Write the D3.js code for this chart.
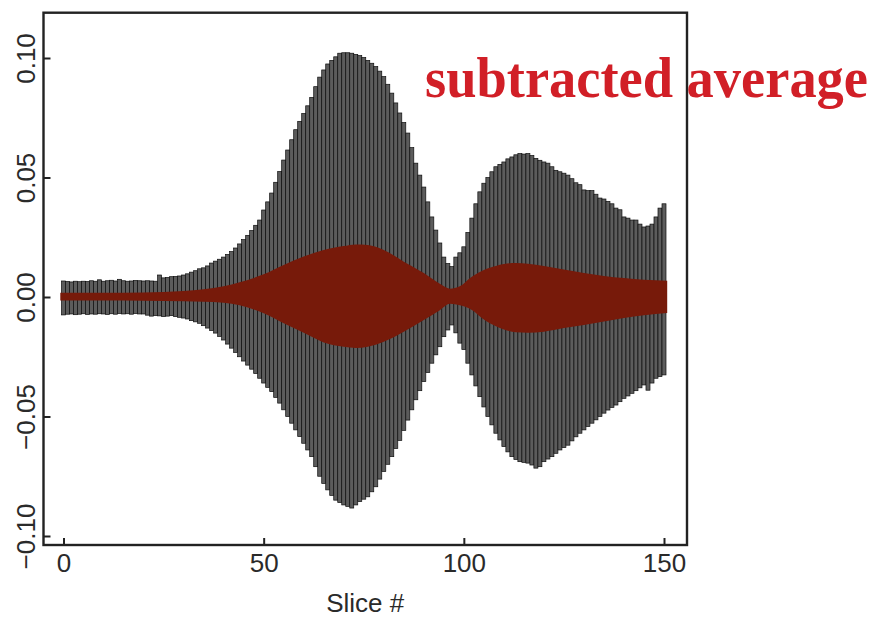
<!DOCTYPE html>
<html>
<head>
<meta charset="utf-8">
<script src="https://cdn.jsdelivr.net/npm/d3@7"></script>
<style>
  body { margin: 0; background: #fff; }
  svg { display: block; }
  .tick text { font-family: "Liberation Sans", Arial, sans-serif; font-size: 26px; fill: #2a2a2a; }
</style>
</head>
<body>
<svg id="chart" width="878" height="617"></svg>
<script>
// slice numbers 0..150
const slices = d3.range(0, 151);

// upper end of each slice's bar
const upper = [
  0.0067, 0.0065, 0.0063, 0.0066, 0.0064, 0.0066, 0.0065, 0.0068, 0.0066, 0.0072,
  0.0066, 0.0068, 0.0070, 0.0067, 0.0074, 0.0068, 0.0066, 0.0067, 0.0069, 0.0068,
  0.0067, 0.0068, 0.0067, 0.0066, 0.0092, 0.0080, 0.0082, 0.0085, 0.0086, 0.0088,
  0.0092, 0.0097, 0.0104, 0.0110, 0.0118, 0.0122, 0.0130, 0.0142, 0.0150, 0.0158,
  0.0167, 0.0178, 0.0190, 0.0205, 0.0222, 0.0240, 0.0258, 0.0278, 0.0300, 0.0322,
  0.0364, 0.0398, 0.0435, 0.0480, 0.0525, 0.0573, 0.0615, 0.0658, 0.0700, 0.0735,
  0.0768, 0.0800, 0.0835, 0.0880, 0.0920, 0.0950, 0.0975, 0.0990, 0.1005, 0.1020,
  0.1022, 0.1022, 0.1020, 0.1015, 0.1010, 0.1002, 0.0990, 0.0978, 0.0964, 0.0945,
  0.0922, 0.0890, 0.0853, 0.0812, 0.0770, 0.0730, 0.0686, 0.0625, 0.0560, 0.0510,
  0.0460, 0.0398, 0.0335, 0.0280, 0.0226, 0.0167, 0.0140, 0.0127, 0.0167, 0.0185,
  0.0210, 0.0270, 0.0330, 0.0390, 0.0440, 0.0476, 0.0500, 0.0524, 0.0545, 0.0555,
  0.0565, 0.0578, 0.0586, 0.0595, 0.0600, 0.0598, 0.0600, 0.0592, 0.0580, 0.0572,
  0.0565, 0.0560, 0.0545, 0.0530, 0.0524, 0.0518, 0.0510, 0.0495, 0.0478, 0.0470,
  0.0448, 0.0445, 0.0445, 0.0430, 0.0414, 0.0410, 0.0400, 0.0390, 0.0372, 0.0365,
  0.0335, 0.0330, 0.0322, 0.0322, 0.0305, 0.0293, 0.0297, 0.0305, 0.0335, 0.0372,
  0.0390
];

// lower end of each slice's bar
const lower = [
  -0.0075, -0.0072, -0.0071, -0.0074, -0.0072, -0.0070, -0.0073, -0.0071, -0.0072, -0.0070,
  -0.0071, -0.0073, -0.0070, -0.0072, -0.0069, -0.0071, -0.0070, -0.0072, -0.0069, -0.0071,
  -0.0071, -0.0076, -0.0080, -0.0078, -0.0079, -0.0082, -0.0080, -0.0078, -0.0082, -0.0085,
  -0.0088, -0.0092, -0.0099, -0.0104, -0.0110, -0.0120, -0.0130, -0.0140, -0.0151, -0.0165,
  -0.0180, -0.0197, -0.0214, -0.0232, -0.0250, -0.0268, -0.0285, -0.0302, -0.0320, -0.0340,
  -0.0360, -0.0378, -0.0396, -0.0420, -0.0444, -0.0472, -0.0500, -0.0528, -0.0556, -0.0584,
  -0.0612, -0.0640, -0.0668, -0.0710, -0.0750, -0.0780, -0.0807, -0.0830, -0.0850, -0.0860,
  -0.0870, -0.0876, -0.0883, -0.0870, -0.0856, -0.0846, -0.0836, -0.0815, -0.0794, -0.0762,
  -0.0730, -0.0700, -0.0668, -0.0634, -0.0600, -0.0558, -0.0515, -0.0472, -0.0430, -0.0392,
  -0.0354, -0.0316, -0.0277, -0.0242, -0.0208, -0.0166, -0.0138, -0.0117, -0.0150, -0.0193,
  -0.0220, -0.0277, -0.0326, -0.0372, -0.0417, -0.0460, -0.0500, -0.0535, -0.0570, -0.0598,
  -0.0626, -0.0648, -0.0668, -0.0680, -0.0689, -0.0692, -0.0695, -0.0703, -0.0716, -0.0710,
  -0.0689, -0.0678, -0.0668, -0.0654, -0.0640, -0.0630, -0.0620, -0.0602, -0.0585, -0.0570,
  -0.0556, -0.0542, -0.0528, -0.0514, -0.0500, -0.0486, -0.0473, -0.0462, -0.0452, -0.0438,
  -0.0424, -0.0414, -0.0403, -0.0392, -0.0380, -0.0368, -0.0390, -0.0360, -0.0340, -0.0333,
  -0.0326
];

// subtracted average band, read at these slices
const bandSlices = [-0.8, 10, 20, 30, 35, 40, 44, 50, 55, 60, 65, 70, 73, 76, 80, 85, 90, 94, 96.5,
  99, 102, 105, 108, 110, 113, 116, 120, 125, 130, 135, 140, 145, 150.8];
const bandUpper = [0.0018, 0.0018, 0.0019, 0.0025, 0.0032, 0.0045, 0.0062, 0.0095, 0.0134, 0.0169,
  0.0197, 0.0213, 0.0220, 0.0218, 0.0197, 0.0148, 0.0100, 0.0055, 0.0035,
  0.0045, 0.0085, 0.0113, 0.0130, 0.0138, 0.0142, 0.0139, 0.0130, 0.0115, 0.0100, 0.0088,
  0.0079, 0.0072, 0.0068];
const bandLower = [-0.0015, -0.0015, -0.0016, -0.0018, -0.0020, -0.0024, -0.0035, -0.0068, -0.0110, -0.0150,
  -0.0190, -0.0208, -0.0213, -0.0208, -0.0187, -0.0145, -0.0096, -0.0055, -0.0028,
  -0.0035, -0.0054, -0.0094, -0.0122, -0.0136, -0.0148, -0.0150, -0.0145, -0.0130, -0.0117, -0.0103,
  -0.0088, -0.0076, -0.0067];

const xTicks = [0, 50, 100, 150];
const yTicks = [-0.10, -0.05, 0.00, 0.05, 0.10];
const yTickLabels = ["\u22120.10", "\u22120.05", "0.00", "0.05", "0.10"];

const svg = d3.select("#chart");

let plotLeft = 43.5, plotRight = 687, plotTop = 12.7, plotBottom = 545;

const x = d3.scaleLinear().domain([0, 150]).range([63.5, 664]);
const y = d3.scaleLinear().domain([-0.10, 0.10]).range([536, 58]);

// error bars
svg.append("g")
  .selectAll("rect")
  .data(slices)
  .join("rect")
  .attr("x", i => x(i - 0.5))
  .attr("width", i => x(i + 0.5) - x(i - 0.5))
  .attr("y", i => y(upper[i]))
  .attr("height", i => y(lower[i]) - y(upper[i]))
  .attr("fill", "#5c5c5c")
  .attr("stroke", "#0d0d0d")
  .attr("stroke-width", 0.7);

// average band
const band = bandSlices.map((s, i) => ({ s: s, hi: bandUpper[i], lo: bandLower[i] }));
const area = d3.area()
  .x(d => x(d.s))
  .y0(d => y(d.lo))
  .y1(d => y(d.hi))
  .curve(d3.curveMonotoneX);

svg.append("path")
  .datum(band)
  .attr("d", area)
  .attr("fill", "#771a0a");

// axes
const xAxis = svg.append("g")
  .attr("transform", `translate(0,${plotBottom})`)
  .call(d3.axisBottom(x).tickValues(xTicks).tickSize(-7).tickPadding(9));
xAxis.select(".domain").remove();
xAxis.selectAll(".tick line").attr("stroke", "#222").attr("stroke-width", 2);

const yAxis = svg.append("g")
  .attr("transform", `translate(${plotLeft},0)`)
  .call(d3.axisLeft(y).tickValues(yTicks).tickSize(-7).tickFormat((d, i) => yTickLabels[i]));
yAxis.select(".domain").remove();
yAxis.selectAll(".tick line").attr("stroke", "#222").attr("stroke-width", 2);
yAxis.selectAll(".tick text")
  .attr("transform", "rotate(-90)")
  .attr("x", 0)
  .attr("y", -9)
  .attr("dy", null)
  .attr("text-anchor", "middle");

// frame
svg.append("rect")
  .attr("x", plotLeft)
  .attr("y", plotTop)
  .attr("width", plotRight - plotLeft)
  .attr("height", plotBottom - plotTop)
  .attr("fill", "none")
  .attr("stroke", "#222")
  .attr("stroke-width", 2.4);

svg.append("text")
  .attr("x", (plotLeft + plotRight) / 2)
  .attr("y", 612)
  .attr("text-anchor", "middle")
  .style("font-family", "'Liberation Sans', Arial, sans-serif")
  .style("font-size", "26px")
  .style("fill", "#2a2a2a")
  .text("Slice #");

svg.append("text")
  .attr("x", 425)
  .attr("y", 97)
  .attr("textLength", 443)
  .attr("lengthAdjust", "spacingAndGlyphs")
  .style("font-family", "'Liberation Serif', 'DejaVu Serif', serif")
  .style("font-weight", "bold")
  .style("font-size", "56px")
  .style("fill", "#d11f27")
  .text("subtracted average");
</script>
</body>
</html>
